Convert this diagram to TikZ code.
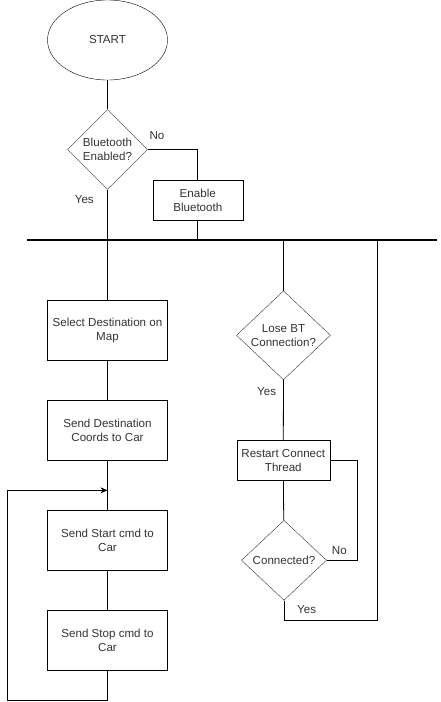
\documentclass[tikz,border=0pt]{standalone}
\usepackage{fontspec}
\setmainfont{Liberation Sans}
\usetikzlibrary{shapes.geometric,arrows.meta}
\begin{document}
\begin{tikzpicture}[x=1pt,y=-1pt,
  every node/.style={font=\fontsize{11.6}{14.2}\selectfont, text=black!80},
  proc/.style={draw, minimum width=120pt, minimum height=60pt, align=center, inner sep=1pt},
  dec/.style={draw=black!80, diamond, aspect=1, align=center, inner sep=0pt},
  lbl/.style={inner sep=0pt},
  conn/.style={line width=0.8pt},
  bar/.style={line width=2pt}]
\useasboundingbox (0,0) rectangle (440,702);
\node[draw, ellipse, minimum width=120pt, minimum height=80pt] (start) at (107.5,40) {START};
\node[dec, minimum width=80pt, minimum height=80pt] (bt) at (107.5,149.5) {Bluetooth\\Enabled?};
\node[proc, minimum width=90pt, minimum height=40pt] (enable) at (197.8,200.3) {Enable\\Bluetooth};
\coordinate (barL) at (27.3,240);
\coordinate (barR) at (436.7,240);
\coordinate (b1) at (107.5,240);
\coordinate (b2) at (197.8,240);
\coordinate (b3) at (283.5,240);
\coordinate (b4) at (377.3,240);
\draw[bar] (barL) -- (barR);
\node[proc] (sel) at (107.5,330.3) {Select Destination on\\Map};
\node[proc] (coords) at (107.5,430.3) {Send Destination\\Coords to Car};
\node[proc] (sstart) at (107.5,540.3) {Send Start cmd to\\Car};
\node[proc] (sstop) at (107.5,640.3) {Send Stop cmd to\\Car};
\node[dec, minimum width=94pt, minimum height=89pt, aspect=1.05] (lose) at (283.5,335.3) {Lose BT\\Connection?};
\node[proc, minimum width=93pt, minimum height=40pt] (restart) at (283.3,460.3) {Restart Connect\\Thread};
\node[dec, minimum width=85pt, minimum height=80pt, aspect=1.06] (conn) at (284,560.3) {Connected?};
% labels
\node[lbl] at (157,136) {No};
\node[lbl] at (84.3,200) {Yes};
\node[lbl] at (266.7,391.7) {Yes};
\node[lbl] at (339.3,550.7) {No};
\node[lbl] at (306.7,609.3) {Yes};
% connectors
\draw[conn] (start) -- (bt);
\draw[conn] (bt.east) -| (enable.north);
\draw[conn] (enable.south) -- (b2);
\draw[conn] (bt.south) -- (sel.north);
\draw[conn] (sel) -- (coords);
\coordinate (merge) at (107.5,490.3);
\draw[conn] (coords) -- (sstart);
\draw[conn] (sstart) -- (sstop);
\coordinate (lb) at (107.5,700);
\coordinate (ll) at (7.7,700);
\coordinate (lt) at (7.7,490.3);
\draw[conn,-{Stealth[length=7pt,width=6pt]}] (sstop.south) -- (lb) -- (ll) -- (lt) -- (merge);
\draw[conn] (b3) -- (lose.north);
\draw[conn] (lose.south) -- (restart.north);
\draw[conn] (restart) -- (conn);
\coordinate (nr) at (357.7,560.3);
\coordinate (nt) at (357.7,460.3);
\draw[conn] (conn.east) -- (nr) -- (nt) -- (restart.east);
\coordinate (yb) at (284,620);
\coordinate (yr) at (377.3,620);
\draw[conn] (conn.south) -- (yb) -- (yr) -- (b4);
\end{tikzpicture}
\end{document}
